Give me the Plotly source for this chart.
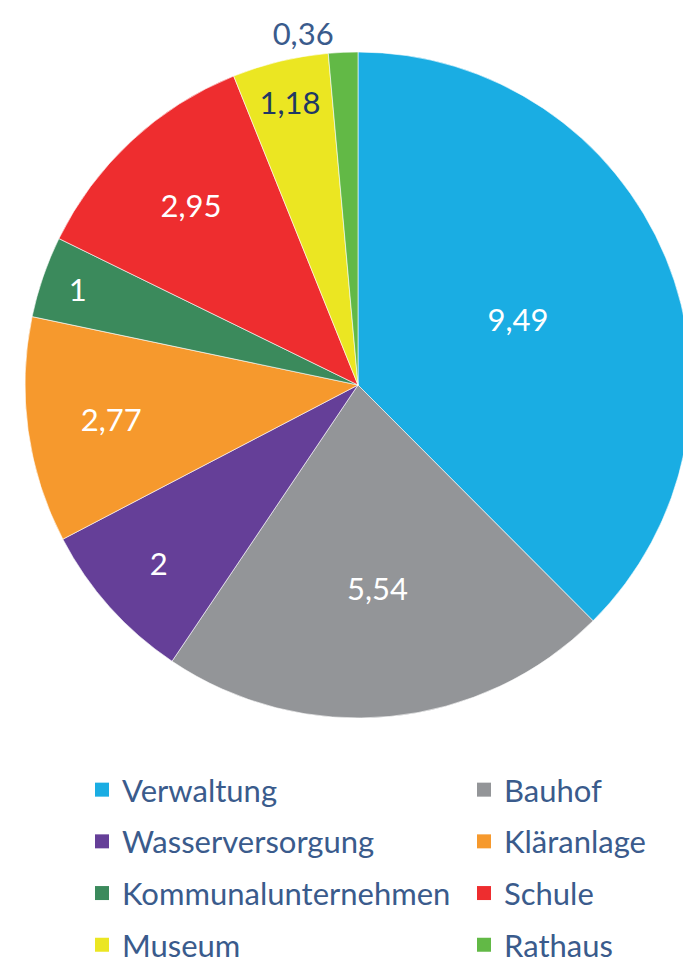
import plotly.graph_objects as go

# Werte aus dem Diagramm
kategorien = ["Verwaltung", "Bauhof", "Wasserversorgung", "Kläranlage",
              "Kommunalunternehmen", "Schule", "Museum", "Rathaus"]
werte = [9.49, 5.54, 2, 2.77, 1, 2.95, 1.18, 0.36]
farben = ["#1AADE3", "#939598", "#653F98", "#F6992D",
          "#3B8A5C", "#EE2D2F", "#EBE622", "#62B946"]
text_farben = ["white", "white", "white", "white", "white", "white", "#1F3864", "#3A5B8C"]
text_pos = ["inside"] * 7 + ["outside"]

# Seite hat 8 px Body-Rand -> Figur etwas kleiner, damit sie genau ins Fenster passt
W, H = 683, 950
SCHRIFT = "Lato"
BLAU = "#3A5B8C"

fig = go.Figure(go.Pie(
    labels=kategorien, values=werte, sort=False, direction="clockwise", rotation=0,
    marker=dict(colors=farben, line=dict(color="white", width=0.6)),
    textinfo="value", textposition=text_pos,
    insidetextorientation="horizontal",
    textfont=dict(family=SCHRIFT, size=31, color=text_farben),
    domain=dict(x=[17 / W, 1], y=[1 - 710 / H, 1 - 44 / H]),
    automargin=False, showlegend=False,
))

# Legende in zwei Spalten: Einträge abwechselnd links/rechts
for i, (name, farbe) in enumerate(zip(kategorien, farben)):
    fig.add_trace(go.Scatter(
        x=[None], y=[None], mode="markers", name=name, legendgroup=name,
        marker=dict(symbol="square", size=14, color=farbe),
        legend="legend" if i % 2 == 0 else "legend2",
    ))

leg = dict(orientation="v", xref="paper", yref="paper",
           xanchor="left", yanchor="top", y=1 - 755 / H, tracegroupgap=8.4,
           bgcolor="rgba(0,0,0,0)",
           font=dict(family=SCHRIFT, size=31, color=BLAU))

fig.update_layout(
    width=W, height=H,
    margin=dict(l=0, r=0, t=0, b=0, autoexpand=False),  # Legenden sollen den Kreis nicht verkleinern
    separators=",.",
    paper_bgcolor="white", plot_bgcolor="white",
    showlegend=True,
    xaxis=dict(visible=False), yaxis=dict(visible=False),
    legend=dict(leg, x=74 / W),
    legend2=dict(leg, x=456 / W),
)

fig.write_html("out.html")
